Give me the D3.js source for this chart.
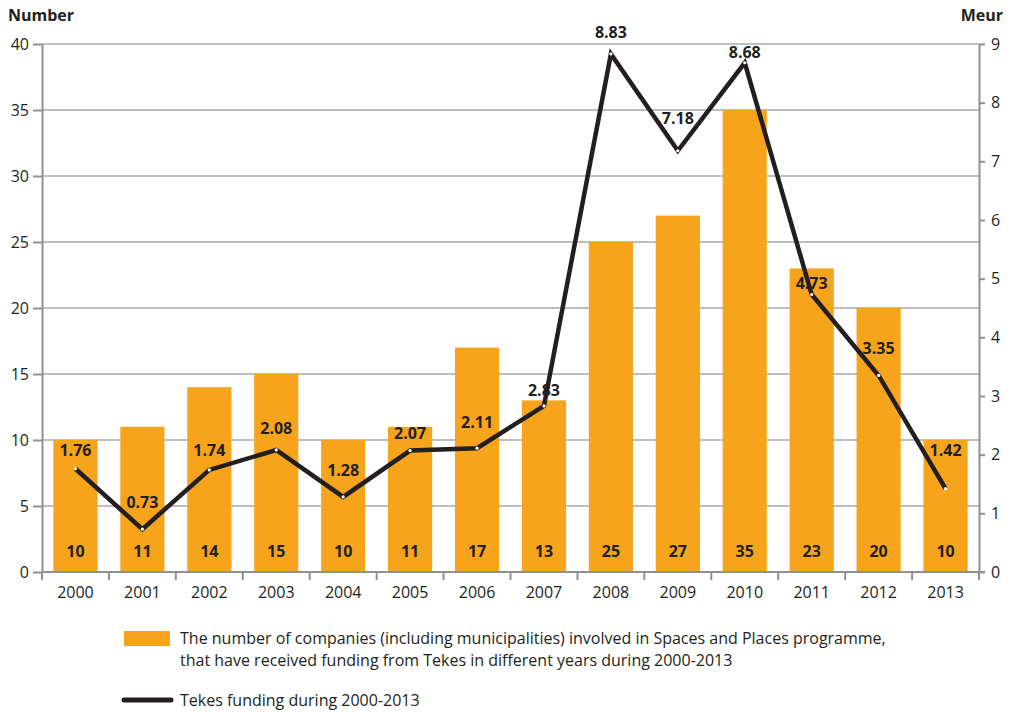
<!DOCTYPE html>
<html>
<head>
<meta charset="utf-8">
<script src="https://cdn.jsdelivr.net/npm/d3@7"></script>
<style>
  html, body { margin: 0; padding: 0; background: #fff; }
  svg { display: block; font-family: "Open Sans", "Noto Sans", sans-serif; }
</style>
</head>
<body>
<svg id="chart" width="1010" height="712"></svg>
<script>
// Companies funded per year (bars, left axis) and Tekes funding in Meur (line, right axis)
const years = ["2000","2001","2002","2003","2004","2005","2006","2007","2008","2009","2010","2011","2012","2013"];
const companies = [10, 11, 14, 15, 10, 11, 17, 13, 25, 27, 35, 23, 20, 10];
const funding = [1.76, 0.73, 1.74, 2.08, 1.28, 2.07, 2.11, 2.83, 8.83, 7.18, 8.68, 4.73, 3.35, 1.42];
const leftTicks = [0, 5, 10, 15, 20, 25, 30, 35, 40];
const rightTicks = [0, 1, 2, 3, 4, 5, 6, 7, 8, 9];
// hand-placed vertical lift of each funding label above its point (px)
const labelLift = [19, 27, 20, 22, 27, 18, 26, 16, 22, 33, 11, 12, 27, 39];

const barLegend = [
  "The number of companies (including municipalities) involved in Spaces and Places programme,",
  "that have received funding from Tekes in different years during 2000-2013"
];
const lineLegend = "Tekes funding during 2000-2013";

const ORANGE = "#F7A41D";
const INK = "#231F20";
const GRID = "#A7A9AC";
const AXIS = "#8E9093";

const svg = d3.select("#chart");
const m = { left: 42, right: 979, top: 44, bottom: 572 };

const x = d3.scaleBand().domain(years).range([m.left, m.right]).paddingInner(0.34).paddingOuter(0.17);
const yL = d3.scaleLinear().domain([0, 40]).range([m.bottom, m.top]);
const yR = d3.scaleLinear().domain([0, 9]).range([m.bottom, m.top]);

// horizontal grid
svg.append("g").selectAll("line").data(leftTicks.filter(d => d > 0)).join("line")
  .attr("x1", m.left).attr("x2", m.right)
  .attr("y1", d => yL(d)).attr("y2", d => yL(d))
  .attr("stroke", GRID).attr("stroke-width", 1.3);

// bars
svg.append("g").selectAll("rect").data(years).join("rect")
  .attr("x", d => x(d)).attr("width", x.bandwidth())
  .attr("y", (d, i) => yL(companies[i]))
  .attr("height", (d, i) => yL(0) - yL(companies[i]))
  .attr("fill", ORANGE);

// bar count labels
svg.append("g").selectAll("text").data(years).join("text")
  .attr("x", d => x(d) + x.bandwidth() / 2)
  .attr("y", yL(0) - 15)
  .attr("text-anchor", "middle")
  .attr("font-size", 16).attr("font-weight", 700).attr("fill", INK)
  .text((d, i) => companies[i]);

// axes
const axisStyle = g => {
  g.select(".domain").attr("stroke", AXIS).attr("stroke-width", 2);
  g.selectAll(".tick line").attr("stroke", AXIS).attr("stroke-width", 2);
  g.selectAll(".tick text").attr("fill", INK).attr("font-size", 16)
    .attr("font-family", "'Open Sans', 'Noto Sans', sans-serif");
};

svg.append("g").attr("transform", `translate(${m.left},0)`)
  .call(d3.axisLeft(yL).tickValues(leftTicks).tickSize(9).tickPadding(4).tickSizeOuter(0))
  .call(axisStyle);

svg.append("g").attr("transform", `translate(${m.right},0)`)
  .call(d3.axisRight(yR).tickValues(rightTicks).tickSize(6).tickPadding(6).tickSizeOuter(0))
  .call(axisStyle);

// bottom axis: ticks sit on band boundaries, labels centred in bands
const bandEdges = d3.scaleLinear().domain([0, years.length]).range([m.left, m.right]);
const xAxisG = svg.append("g").attr("transform", `translate(0,${m.bottom})`);
xAxisG.append("line").attr("x1", m.left).attr("x2", m.right + 6)
  .attr("stroke", AXIS).attr("stroke-width", 2);
xAxisG.selectAll("line.edge").data(d3.range(years.length + 1)).join("line")
  .attr("class", "edge")
  .attr("x1", d => bandEdges(d)).attr("x2", d => bandEdges(d))
  .attr("y1", 0).attr("y2", 8)
  .attr("stroke", AXIS).attr("stroke-width", 2);
xAxisG.selectAll("text").data(years).join("text")
  .attr("x", d => x(d) + x.bandwidth() / 2)
  .attr("y", 26)
  .attr("text-anchor", "middle")
  .attr("font-size", 16).attr("fill", INK)
  .text(d => d);

// axis titles
svg.append("text").attr("x", 8).attr("y", 21)
  .attr("font-size", 16).attr("font-weight", 700).attr("fill", INK).text("Number");
svg.append("text").attr("x", 1003).attr("y", 21).attr("text-anchor", "end")
  .attr("font-size", 16).attr("font-weight", 700).attr("fill", INK).text("Meur");

// funding line
const px = (d, i) => x(years[i]) + x.bandwidth() / 2;
const line = d3.line().x((d, i) => px(d, i)).y(d => yR(d));
svg.append("path").datum(funding)
  .attr("d", line)
  .attr("fill", "none").attr("stroke", INK)
  .attr("stroke-width", 4.5).attr("stroke-linejoin", "miter");

svg.append("g").selectAll("circle").data(funding).join("circle")
  .attr("cx", (d, i) => px(d, i)).attr("cy", d => yR(d))
  .attr("r", 1.6).attr("fill", "#fff");

// funding labels
svg.append("g").selectAll("text").data(funding).join("text")
  .attr("x", (d, i) => px(d, i))
  .attr("y", (d, i) => yR(d) - labelLift[i] + 6)
  .attr("text-anchor", "middle")
  .attr("font-size", 16).attr("font-weight", 700).attr("fill", INK)
  .text(d => d.toFixed(2));

// legend
const lg = svg.append("g");
lg.append("rect").attr("x", 124).attr("y", 631).attr("width", 46).attr("height", 15).attr("fill", ORANGE);
lg.selectAll("text.bar").data(barLegend).join("text")
  .attr("class", "bar")
  .attr("x", 180).attr("y", (d, i) => 644 + i * 22)
  .attr("font-size", 16).attr("fill", INK)
  .text(d => d);
lg.append("line").attr("x1", 124).attr("x2", 171).attr("y1", 700).attr("y2", 700)
  .attr("stroke", INK).attr("stroke-width", 5).attr("stroke-linecap", "round");
lg.append("text").attr("x", 180).attr("y", 706)
  .attr("font-size", 16).attr("fill", INK).text(lineLegend);
</script>
</body>
</html>
